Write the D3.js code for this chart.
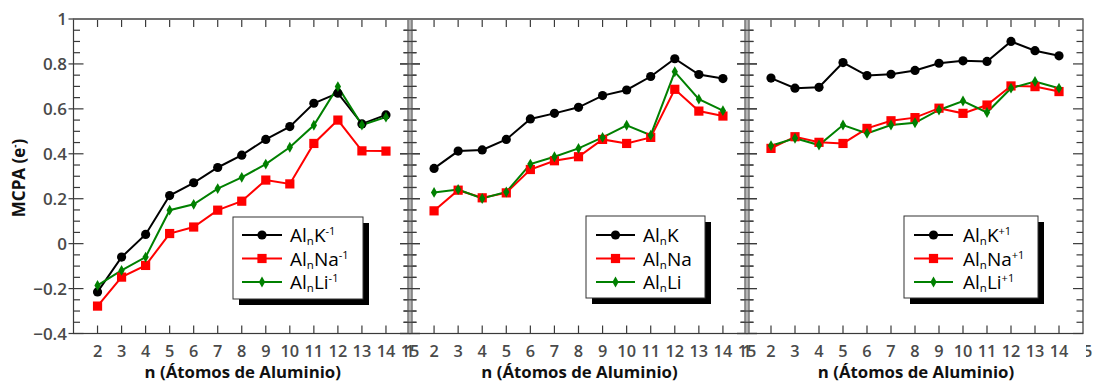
<!DOCTYPE html>
<html>
<head>
<meta charset="utf-8">
<script src="https://cdn.jsdelivr.net/npm/d3@7"></script>
<style>
  html, body { margin: 0; padding: 0; background: #fff; }
  svg { display: block; }
</style>
</head>
<body>
<svg id="chart" width="1093" height="383"></svg>
<script>
// Cluster size n (number of aluminium atoms)
const nValues = [2, 3, 4, 5, 6, 7, 8, 9, 10, 11, 12, 13, 14];
const xTickValues = [2, 3, 4, 5, 6, 7, 8, 9, 10, 11, 12, 13, 14];
const yTickValues = [-0.4, -0.2, 0, 0.2, 0.4, 0.6, 0.8, 1];
const yTickLabels = ["\u22120.4", "\u22120.2", "0", "0.2", "0.4", "0.6", "0.8", "1"];

// Anions (charge -1)
const anionK  = [-0.215, -0.060, 0.041, 0.214, 0.271, 0.339, 0.394, 0.464, 0.521, 0.625, 0.670, 0.533, 0.573];
const anionNa = [-0.278, -0.149, -0.097, 0.045, 0.074, 0.149, 0.189, 0.283, 0.266, 0.446, 0.550, 0.413, 0.412];
const anionLi = [-0.186, -0.119, -0.060, 0.149, 0.175, 0.245, 0.295, 0.354, 0.429, 0.527, 0.699, 0.528, 0.563];

// Neutral clusters
const neutralK  = [0.335, 0.412, 0.417, 0.464, 0.555, 0.580, 0.607, 0.659, 0.684, 0.744, 0.823, 0.753, 0.735];
const neutralNa = [0.146, 0.238, 0.204, 0.226, 0.330, 0.369, 0.387, 0.464, 0.446, 0.473, 0.687, 0.590, 0.568];
const neutralLi = [0.228, 0.241, 0.201, 0.230, 0.354, 0.387, 0.424, 0.473, 0.527, 0.483, 0.765, 0.643, 0.592];

// Cations (charge +1)
const cationK  = [0.737, 0.692, 0.696, 0.806, 0.748, 0.754, 0.771, 0.803, 0.814, 0.811, 0.900, 0.859, 0.836];
const cationNa = [0.424, 0.476, 0.451, 0.446, 0.513, 0.547, 0.561, 0.603, 0.580, 0.617, 0.702, 0.699, 0.677];
const cationLi = [0.436, 0.469, 0.439, 0.528, 0.491, 0.528, 0.538, 0.595, 0.635, 0.584, 0.692, 0.722, 0.692];

const chargeSuffix = ["-1", "", "+1"];
const seriesNames = ["K", "Na", "Li"];
const seriesColors = ["#000000", "#ff0000", "#008000"];

const panelData = [
  [anionK, anionNa, anionLi],
  [neutralK, neutralNa, neutralLi],
  [cationK, cationNa, cationLi]
];

const svg = d3.select("#chart");
const plotTop = 19, plotBottom = 333.5;
const panelEdges = [73.5, 410, 747, 1083];
const legendBoxes = [
  { x: 233, y: 217, w: 130, h: 82, lineX0: 242, lineX1: 282, textX: 290 },
  { x: 586, y: 216, w: 119, h: 82, lineX0: 596, lineX1: 635, textX: 643 },
  { x: 904, y: 216, w: 134, h: 82, lineX0: 914, lineX1: 953, textX: 963 }
];
const legendRows = [235, 258.5, 282];

const y = d3.scaleLinear().domain([-0.4, 1]).range([plotBottom, plotTop]);
const fontTick = "'Open Sans', 'DejaVu Sans', sans-serif";
const frameColor = "#3a3a3a";

const defs = svg.append("defs");
// clip for the cut-off label at the right edge
defs.append("clipPath").attr("id", "edgeClip")
  .append("rect").attr("x", 1086).attr("y", 330).attr("width", 20).attr("height", 40);

function marker(g, kind, cx, cy) {
  if (kind === 0) {
    g.append("circle").attr("cx", cx).attr("cy", cy).attr("r", 4.6).attr("fill", "#000");
  } else if (kind === 1) {
    g.append("rect").attr("x", cx - 4.6).attr("y", cy - 4.6).attr("width", 9.2).attr("height", 9.2).attr("fill", "#ff0000");
  } else {
    g.append("path")
      .attr("transform", `translate(${cx},${cy})`)
      .attr("d", d3.symbol().type(d3.symbolDiamond).size(34)())
      .attr("fill", "#008000");
    g.append("path")
      .attr("transform", `translate(${cx},${cy}) rotate(45)`)
      .attr("d", d3.symbol().type(d3.symbolSquare).size(10)())
      .attr("fill", "#008000");
  }
}

panelData.forEach((series, p) => {
  const x0 = panelEdges[p], x1 = panelEdges[p + 1];
  const x = d3.scaleLinear().domain([1, 15]).range([x0, x1]);
  const g = svg.append("g");

  // frame
  g.append("rect").attr("x", x0).attr("y", plotTop).attr("width", x1 - x0).attr("height", plotBottom - plotTop)
    .attr("fill", "none").attr("stroke", frameColor).attr("stroke-width", 1.2);

  // x ticks, top and bottom, pointing inward
  const xt = g.append("g").attr("stroke", frameColor).attr("stroke-width", 1.2);
  xTickValues.forEach(v => {
    xt.append("line").attr("x1", x(v)).attr("x2", x(v)).attr("y1", plotBottom).attr("y2", plotBottom - 8);
    xt.append("line").attr("x1", x(v)).attr("x2", x(v)).attr("y1", plotTop).attr("y2", plotTop + 8);
  });

  // y ticks on both sides: minor every 0.05, major every 0.2
  const yt = g.append("g").attr("stroke", frameColor).attr("stroke-width", 1.2);
  d3.range(-8, 21).forEach(i => {
    const v = i * 0.05;
    const major = i % 4 === 0;
    const len = major ? 10 : 6.5;
    const out = (p === 0 && major) ? 5 : 0;
    yt.append("line").attr("x1", x0 - out).attr("x2", x0 + len).attr("y1", y(v)).attr("y2", y(v));
    yt.append("line").attr("x1", x1).attr("x2", x1 - len).attr("y1", y(v)).attr("y2", y(v));
  });

  // x tick labels
  const labels = g.append("g").attr("font-family", fontTick).attr("font-size", 16.3)
    .attr("font-weight", 600).attr("fill", "#4a4a4a").attr("text-anchor", "middle");
  xTickValues.concat([15]).forEach(v => {
    const t = labels.append("text").attr("x", x(v)).attr("y", 356.5).text(v);
    if (p === 2 && v === 15) t.attr("clip-path", "url(#edgeClip)");
  });
  if (p > 0) labels.append("text").attr("x", x(1)).attr("y", 356.5).text(1);

  // x axis title
  g.append("text").attr("x", (x0 + x1) / 2 + 1).attr("y", 378)
    .attr("text-anchor", "middle").attr("font-family", fontTick).attr("font-size", 16.8)
    .attr("font-weight", 700).attr("fill", "#111").text("n (\u00c1tomos de Aluminio)");

  // series lines and markers
  const line = d3.line().x((d, i) => x(nValues[i])).y(d => y(d));
  series.forEach((vals, s) => {
    g.append("path").datum(vals).attr("d", line).attr("fill", "none")
      .attr("stroke", seriesColors[s]).attr("stroke-width", 2);
  });
  series.forEach((vals, s) => {
    const mg = g.append("g");
    vals.forEach((v, i) => marker(mg, s, x(nValues[i]), y(v)));
  });
});

// panel separators and top border
[410, 747].forEach(xs => {
  svg.append("rect").attr("x", xs - 2.5).attr("y", plotTop - 1).attr("width", 5).attr("height", plotBottom - plotTop + 1.5)
    .attr("fill", "#b5b5b5");
  svg.append("line").attr("x1", xs - 2).attr("x2", xs - 2).attr("y1", plotTop - 1).attr("y2", plotBottom)
    .attr("stroke", "#6a6a6a").attr("stroke-width", 1.2);
  svg.append("line").attr("x1", xs + 2).attr("x2", xs + 2).attr("y1", plotTop - 1).attr("y2", plotBottom)
    .attr("stroke", "#6a6a6a").attr("stroke-width", 1.2);
  // ticks crossing the separator
  d3.range(-8, 21).forEach(i => {
    const v = i * 0.05;
    const len = i % 4 === 0 ? 10 : 6.5;
    svg.append("line").attr("x1", xs - len).attr("x2", xs + len).attr("y1", y(v)).attr("y2", y(v))
      .attr("stroke", frameColor).attr("stroke-width", 1.2);
  });
});
svg.append("line").attr("x1", panelEdges[0]).attr("x2", panelEdges[3]).attr("y1", plotTop).attr("y2", plotTop)
  .attr("stroke", "#707070").attr("stroke-width", 2);

// legends
panelData.forEach((series, p) => {
  const lb = legendBoxes[p];
  const lg = svg.append("g");
  lg.append("rect").attr("x", lb.x + 6).attr("y", lb.y + 6).attr("width", lb.w).attr("height", lb.h).attr("fill", "#000");
  lg.append("rect").attr("x", lb.x).attr("y", lb.y).attr("width", lb.w).attr("height", lb.h)
    .attr("fill", "#fff").attr("stroke", "#333").attr("stroke-width", 1);
  seriesNames.forEach((name, s) => {
    const ry = legendRows[s];
    lg.append("line").attr("x1", lb.lineX0).attr("x2", lb.lineX1).attr("y1", ry).attr("y2", ry)
      .attr("stroke", seriesColors[s]).attr("stroke-width", 2);
    marker(lg, s, (lb.lineX0 + lb.lineX1) / 2, ry);
    const t = lg.append("text").attr("x", lb.textX).attr("y", ry + 7)
      .attr("font-family", fontTick).attr("font-size", 19).attr("fill", "#000");
    t.append("tspan").text("Al");
    t.append("tspan").attr("font-size", 11.5).attr("dy", 3).text("n");
    t.append("tspan").attr("dy", -3).text(name);
    if (chargeSuffix[p]) t.append("tspan").attr("font-size", 11).attr("dy", -7).text(chargeSuffix[p]);
  });
});

// y tick labels
const yl = svg.append("g").attr("font-family", fontTick).attr("font-size", 17).attr("font-weight", 600)
  .attr("fill", "#4a4a4a").attr("text-anchor", "end");
yTickValues.forEach((v, i) => {
  yl.append("text").attr("x", 67).attr("y", y(v)).attr("dy", "0.36em").text(yTickLabels[i]);
});

// y axis title
const yTitle = svg.append("text").attr("transform", "translate(25,178) rotate(-90)")
  .attr("text-anchor", "middle").attr("font-family", fontTick).attr("font-size", 17)
  .attr("font-weight", 700).attr("fill", "#111");
yTitle.append("tspan").text("MCPA (e");
yTitle.append("tspan").attr("font-size", 10).attr("dy", -7).text("-");
yTitle.append("tspan").attr("dy", 7).text(")");
</script>
</body>
</html>
